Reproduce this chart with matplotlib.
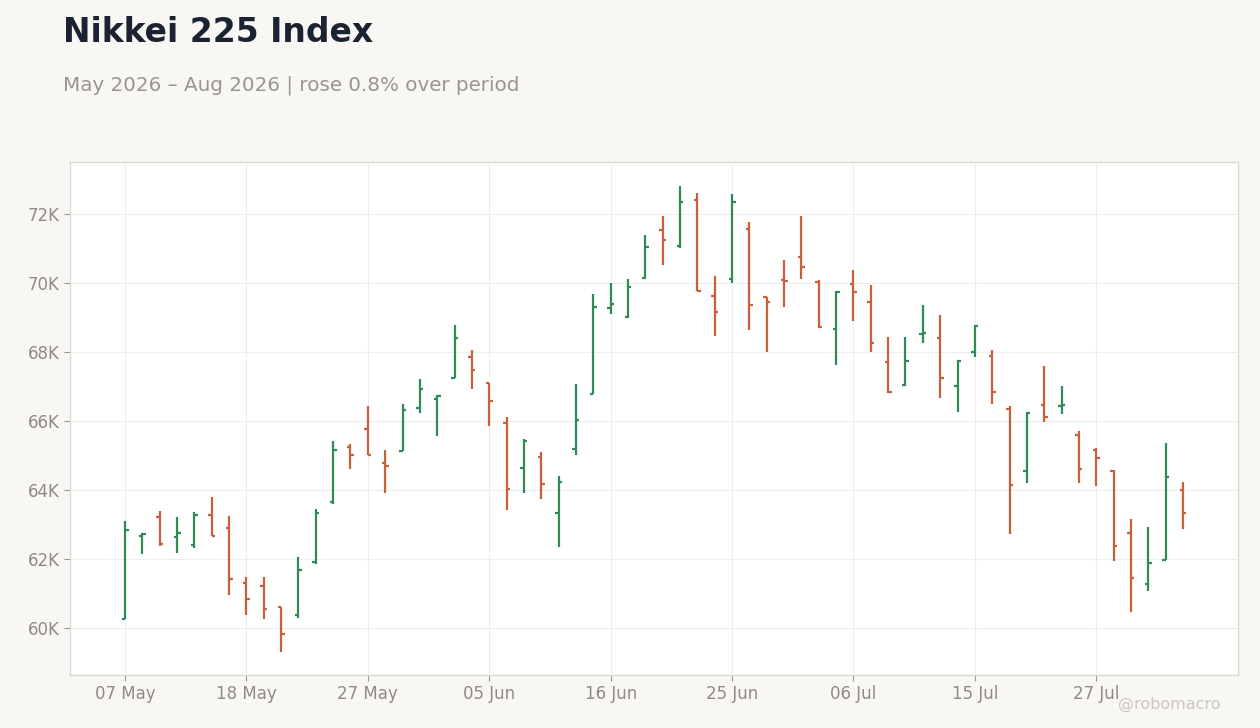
import matplotlib
matplotlib.use("Agg")
import matplotlib.pyplot as plt
import pandas as pd

# daily OHLC, Japanese trading days from 07 May 2026 (Marine Day 20 Jul closed)
opens = [60270, 62667, 63227, 62648, 62416, 63285, 62909, 61314, 61227, 60599,
         60377, 61913, 63662, 65256, 65778, 64792, 65131, 66387, 66648, 67257,
         67866, 67112, 65952, 64647, 64966, 63343, 65189, 66784, 69277, 69016,
         70154, 71545, 71081, 72415, 69632, 70125, 71574, 69594, 70096, 70763,
         70038, 68675, 69980, 69458, 67710, 67044, 68522, 68415, 67015, 68000,
         67893, 66348, 64551, 66464, 66430, 65603, 65168, 64559, 62762, 61284,
         61971, 64009]
highs = [63102, 62745, 63392, 63218, 63363, 63798, 63247, 61478, 61478, 60599,
         62058, 63450, 65421, 65334, 66436, 65160, 66494, 67219, 66755, 68784,
         68059, 67112, 66117, 65470, 65093, 64397, 67074, 69681, 70002, 70118,
         71391, 71942, 72812, 72609, 70203, 72580, 71768, 69594, 70667, 71942,
         70078, 69768, 70377, 69942, 68435, 68435, 69362, 69073, 67768, 68774,
         68049, 66426, 66252, 67594, 67015, 65710, 65209, 64580, 63159, 62928,
         65362, 64232]
lows = [60252, 62145, 62387, 62184, 62319, 62667, 60957, 60377, 60261, 59304,
        60300, 61865, 63585, 64618, 65015, 63904, 65131, 66242, 65575, 67257,
        66938, 65866, 63430, 63923, 63749, 62357, 65024, 66775, 69112, 68996,
        70107, 70531, 71023, 69768, 68473, 69991, 68647, 68009, 69305, 70125,
        68696, 67615, 68907, 68009, 66820, 67023, 68270, 66676, 66270, 67847,
        66502, 62733, 64212, 65980, 66212, 64212, 64125, 61951, 60473, 61082,
        61971, 62878]
closes = [62841, 62735, 62436, 62764, 63285, 62667, 61430, 60850, 60560, 59826,
          61691, 63343, 65169, 65024, 65015, 64705, 66329, 66938, 66735, 68416,
          67489, 66590, 64029, 65430, 64183, 64233, 66030, 69315, 69402, 69894,
          71052, 71255, 72357, 69768, 69168, 72357, 69362, 69449, 70058, 70464,
          68725, 69739, 69739, 68270, 66840, 67739, 68560, 67247, 67739, 68754,
          66841, 64145, 66241, 66116, 66450, 64618, 64936, 62386, 61449, 61893,
          64386, 63342]

dates = pd.bdate_range("2026-05-07", periods=len(opens), freq="C",
                       holidays=["2026-07-20"])

UP = "#2e8b57"
DOWN = "#c9603c"
BG = "#f8f7f4"
TEXT_GRAY = "#8f8a85"

fig = plt.figure(figsize=(12.6, 7.28), dpi=100, facecolor=BG)
ax = fig.add_axes([0.0556, 0.0728, 0.9269, 0.7047])
ax.set_facecolor("white")

x = list(range(len(opens)))
colors = [UP if c >= o else DOWN for o, c in zip(opens, closes)]
ax.vlines(x, lows, highs, colors=colors, linewidth=1.6, zorder=3)
tick_w = 0.2
ax.hlines(opens, [i - tick_w for i in x], x, colors=colors, linewidth=1.6, zorder=3)
ax.hlines(closes, x, [i + tick_w for i in x], colors=colors, linewidth=1.6, zorder=3)

ax.set_xlim(-3.17, 64.17)
ax.set_ylim(58638, 73507)

xt = list(range(0, len(opens), 7))
ax.set_xticks(xt)
ax.set_xticklabels([dates[i].strftime("%d %b") for i in xt])
yt = list(range(60000, 73000, 2000))
ax.set_yticks(yt)
ax.set_yticklabels([f"{v // 1000}K" for v in yt])

ax.grid(True, color="#eeeeee", linewidth=0.8, zorder=0)
ax.set_axisbelow(True)
for s in ax.spines.values():
    s.set_color("#ddd8d0")
    s.set_linewidth(1.0)
ax.tick_params(colors="#9a958f", labelcolor=TEXT_GRAY, labelsize=12,
               length=4, width=0.8)

fig.text(0.05, 0.942, "Nikkei 225 Index", fontsize=23.8, fontweight="bold",
         color="#1b2333", va="baseline")
fig.text(0.05, 0.876, "May 2026 \u2013 Aug 2026 | rose 0.8% over period",
         fontsize=14.3, color="#999590", va="baseline")
fig.text(0.969, 0.027, "@robomacro", fontsize=11.5, color="#cbc7c1",
         ha="right", va="baseline")

fig.savefig("out.png", dpi=100, facecolor=BG)
